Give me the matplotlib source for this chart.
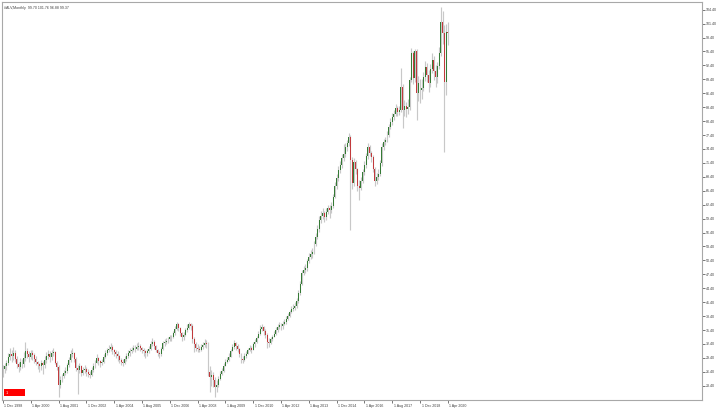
import numpy as np
import matplotlib
matplotlib.use("Agg")
import matplotlib.pyplot as plt
from matplotlib.patches import Rectangle
from matplotlib.transforms import ScaledTranslation

# Monthly candles, Dec 1998 .. Apr 2020
first_open = 26.6

closes = [27.0,
    27.6, 28.4, 29.6, 30.3, 29.8, 30.5, 29.2, 28.0, 27.4, 28.6, 28.0, 29.4,   # 1999
    30.8, 30.2, 29.6, 30.4, 30.0, 29.2, 28.6, 28.0, 27.6, 28.2, 27.8, 29.0,   # 2000
    29.8, 30.2, 29.6, 30.4, 30.6, 28.4, 27.4, 23.6, 24.6, 25.4, 26.2, 26.6,   # 2001
    27.8, 29.0, 30.2, 30.4, 29.2, 27.2, 26.8, 27.6, 26.2, 26.8, 27.0, 26.4,   # 2002
    26.0, 25.8, 26.8, 27.6, 28.4, 29.4, 28.8, 28.2, 28.6, 29.6, 30.4, 31.0,   # 2003
    31.4, 31.8, 31.0, 30.6, 30.2, 29.8, 29.0, 28.6, 28.4, 29.2, 29.8, 30.4,   # 2004
    30.8, 31.2, 31.6, 31.4, 31.8, 32.0, 31.6, 31.2, 30.8, 30.4, 30.8, 31.4,   # 2005
    32.4, 32.8, 32.0, 31.2, 30.4, 30.2, 31.4, 32.6, 32.8, 33.0, 33.4, 33.8,   # 2006
    33.8, 34.8, 35.6, 36.6, 35.8, 34.8, 33.8, 34.4, 35.4, 35.8, 36.6, 36.2,   # 2007
    33.4, 32.4, 31.6, 31.4, 31.2, 31.8, 32.2, 32.6, 32.4, 26.3, 25.3, 25.8,   # 2008
    24.6, 23.2, 23.6, 24.8, 26.0, 26.6, 27.6, 28.6, 29.0, 29.6, 30.8, 31.8,   # 2009
    32.6, 32.0, 31.4, 30.2, 29.2, 29.0, 29.8, 30.2, 31.0, 31.6, 31.2, 32.4,   # 2010
    32.8, 33.6, 34.6, 35.6, 36.0, 35.2, 34.4, 32.8, 32.6, 33.4, 33.8, 34.6,   # 2011
    35.4, 36.0, 36.4, 36.2, 36.8, 37.2, 37.8, 38.4, 39.2, 40.0, 40.2, 40.6,   # 2012
    41.6, 43.4, 45.4, 47.6, 48.4, 48.8, 50.2, 51.1, 51.8, 52.2, 54.0, 55.4,   # 2013
    57.2, 59.1, 60.0, 60.6, 59.8, 60.8, 61.6, 61.3, 62.2, 64.0, 66.4, 68.1,   # 2014
    69.9, 71.0, 72.4, 73.3, 74.8, 75.6, 77.0, 72.0, 67.0, 71.6, 70.0, 66.4,   # 2015
    66.0, 67.6, 69.4, 71.0, 72.8, 74.8, 73.6, 72.7, 70.0, 67.6, 68.4, 69.0,   # 2016
    71.4, 74.8, 75.8, 76.3, 77.4, 79.1, 80.2, 81.3, 82.0, 83.2, 82.4, 82.8,   # 2017
    87.7, 82.8, 83.6, 83.0, 83.4, 89.3, 95.0, 89.6, 95.4, 86.4, 88.6, 87.2,   # 2018
    87.6, 89.8, 92.0, 90.4, 88.6, 91.6, 93.6, 91.2, 89.9, 92.2, 95.0, 101.8,  # 2019
    99.4, 88.8, 99.7, 99.37]                                                  # 2020

highs = [27.8,
    28.4, 29.0, 30.4, 31.6, 31.2, 31.8, 31.0, 29.8, 28.6, 29.4, 29.2, 30.6,
    32.8, 31.6, 30.8, 31.2, 31.0, 30.4, 29.8, 28.8, 28.4, 29.0, 28.8, 29.8,
    30.6, 31.2, 30.8, 31.0, 31.6, 30.8, 28.8, 27.8, 25.6, 26.0, 26.8, 27.4,
    28.4, 29.6, 31.0, 31.6, 30.6, 29.6, 27.8, 28.2, 27.8, 27.4, 27.8, 27.4,
    27.0, 26.6, 27.4, 28.2, 29.0, 30.2, 29.6, 29.0, 29.2, 30.2, 31.0, 31.6,
    32.2, 32.6, 32.2, 31.4, 31.0, 30.8, 30.0, 29.4, 29.2, 29.8, 30.4, 31.0,
    31.6, 31.8, 32.2, 32.2, 32.6, 32.8, 32.4, 31.8, 31.6, 31.2, 31.4, 32.0,
    33.0, 33.6, 33.2, 32.2, 31.4, 30.8, 31.8, 33.0, 33.4, 33.6, 34.0, 34.4,
    34.4, 35.2, 36.2, 37.2, 37.0, 36.0, 35.0, 35.0, 35.8, 36.6, 37.2, 37.0,
    36.8, 34.0, 32.8, 32.4, 32.0, 32.4, 32.8, 33.4, 33.2, 32.8, 27.6, 26.8,
    26.4, 25.2, 24.6, 25.4, 26.6, 27.2, 28.2, 29.2, 29.6, 30.4, 31.4, 32.4,
    33.2, 32.8, 32.4, 31.6, 30.4, 29.8, 30.4, 30.8, 31.6, 32.2, 32.0, 32.8,
    33.4, 34.2, 35.2, 36.4, 36.8, 36.2, 35.6, 34.8, 33.6, 34.0, 34.4, 35.2,
    36.0, 36.6, 37.2, 37.0, 37.4, 37.8, 38.4, 39.0, 39.8, 40.6, 41.0, 41.4,
    42.2, 44.0, 46.0, 48.4, 49.2, 49.6, 50.8, 52.0, 52.6, 53.0, 54.6, 56.2,
    58.0, 60.0, 61.0, 61.6, 61.0, 61.6, 62.4, 62.4, 63.0, 64.8, 67.2, 69.0,
    70.8, 71.8, 73.4, 75.4, 75.6, 76.4, 77.8, 77.4, 72.6, 72.4, 72.0, 70.4,
    67.8, 68.4, 70.0, 71.8, 73.6, 75.6, 75.2, 74.0, 73.0, 70.6, 69.2, 70.0,
    72.0, 75.6, 76.6, 77.0, 78.2, 79.8, 81.0, 82.2, 82.8, 84.0, 83.6, 83.6,
    91.8, 88.4, 85.0, 84.6, 85.2, 89.8, 96.1, 95.6, 96.0, 96.0, 90.2, 89.4,
    89.4, 91.0, 93.4, 93.0, 91.4, 92.6, 95.0, 94.4, 92.4, 93.2, 96.4, 105.0,
    104.2, 101.0, 101.4, 101.76]

lows = [25.2,
    26.2, 26.8, 27.8, 29.0, 28.6, 29.0, 28.6, 27.2, 26.4, 26.8, 27.2, 27.4,
    28.8, 29.4, 28.6, 29.2, 29.0, 28.4, 27.8, 27.0, 26.4, 26.8, 26.0, 27.2,
    28.4, 29.2, 28.6, 29.0, 29.8, 28.0, 26.8, 21.0, 22.8, 24.2, 25.0, 25.8,
    26.2, 27.4, 28.6, 29.6, 28.6, 26.6, 21.6, 26.2, 25.6, 25.8, 26.2, 25.6,
    25.2, 25.0, 25.6, 26.4, 27.2, 28.2, 27.8, 27.4, 27.8, 28.4, 29.4, 30.0,
    30.6, 30.8, 30.2, 29.8, 29.4, 28.8, 28.2, 27.8, 27.6, 28.0, 28.8, 29.4,
    29.8, 30.4, 30.8, 30.6, 31.0, 31.2, 30.8, 30.4, 29.8, 29.4, 29.8, 30.4,
    31.0, 32.0, 31.4, 30.6, 29.8, 29.4, 29.8, 31.2, 32.0, 32.4, 32.6, 33.0,
    33.0, 33.6, 34.4, 35.4, 35.2, 34.2, 33.0, 33.2, 34.2, 35.0, 35.6, 35.4,
    32.6, 30.6, 30.8, 30.6, 30.6, 30.8, 31.4, 31.8, 31.6, 25.6, 22.0, 23.4,
    23.2, 21.0, 22.0, 23.2, 24.6, 25.8, 26.4, 27.8, 28.4, 28.8, 29.8, 30.8,
    31.4, 31.2, 30.6, 29.6, 28.2, 28.4, 28.8, 29.4, 30.2, 30.8, 30.4, 31.0,
    31.8, 32.6, 33.6, 34.4, 35.2, 34.4, 33.6, 31.6, 31.8, 32.4, 33.0, 33.8,
    34.4, 35.0, 35.6, 35.4, 35.6, 36.4, 36.8, 37.6, 38.2, 39.0, 39.4, 39.8,
    40.2, 41.2, 43.0, 45.0, 47.2, 47.6, 48.2, 49.8, 50.6, 51.0, 51.8, 53.4,
    55.0, 56.6, 58.4, 59.4, 58.6, 59.2, 60.4, 59.6, 60.6, 61.6, 63.8, 65.8,
    67.6, 69.2, 70.4, 71.8, 72.6, 74.0, 75.0, 57.0, 65.8, 66.4, 69.0, 65.4,
    63.4, 65.6, 67.0, 68.8, 70.4, 72.2, 72.8, 71.6, 69.4, 66.4, 66.8, 67.8,
    68.6, 70.8, 74.2, 75.2, 75.8, 77.0, 78.6, 79.6, 80.6, 81.4, 81.6, 81.8,
    82.4, 79.0, 81.6, 81.2, 82.0, 82.8, 88.8, 88.4, 88.8, 80.6, 84.8, 84.2,
    85.2, 86.8, 89.0, 88.8, 86.6, 87.8, 90.8, 89.2, 87.8, 88.6, 91.6, 94.4,
    97.0, 73.7, 86.0, 96.88]

date_labels = ["1 Dec 1998", "1 Apr 2000", "1 Aug 2001", "1 Dec 2002", "1 Apr 2004",
               "1 Aug 2005", "1 Dec 2006", "1 Apr 2008", "1 Aug 2009", "1 Dec 2010",
               "1 Apr 2012", "1 Aug 2013", "1 Dec 2014", "1 Apr 2016", "1 Aug 2017",
               "1 Dec 2018", "1 Apr 2020"]

header = "#ALV,Monthly  99.70 101.76 96.88 99.37"

closes = np.array(closes)
highs = np.array(highs)
lows = np.array(lows)
opens = np.concatenate([[first_open], closes[:-1]])
highs = np.maximum(highs, np.maximum(opens, closes))
lows = np.minimum(lows, np.minimum(opens, closes))
idx = np.arange(len(closes))

plt.rcParams["font.family"] = ["Liberation Sans", "DejaVu Sans"]

W, H = 720, 409
fig = plt.figure(figsize=(W / 100, H / 100), dpi=100)
ax = fig.add_axes([2 / W, 1 - 399.5 / H, 699.5 / W, 398 / H])

# wicks
ax.vlines(idx, lows, highs, color="#c8c8c8", linewidth=0.85, zorder=1)

# bodies
up = closes >= opens
body_bottom = np.minimum(opens, closes)
body_h = np.maximum(np.abs(closes - opens), 0.12)
ax.bar(idx[up], body_h[up], bottom=body_bottom[up], width=0.55,
       color="#357a35", linewidth=0, zorder=2)
ax.bar(idx[~up], body_h[~up], bottom=body_bottom[~up], width=0.55,
       color="#c23a3c", linewidth=0, zorder=2)

ax.set_xlim(-0.52, 401.96)
ax.set_ylim(20.43, 106.17)

grey = "#a8a8a8"
for s in ax.spines.values():
    s.set_color(grey)
    s.set_linewidth(0.8)

yt = np.arange(23.4, 104.5, 3.0)
ax.yaxis.tick_right()
ax.set_yticks(yt)
ax.set_yticklabels(["%.2f" % v for v in yt])
ax.tick_params(axis="y", direction="out", length=2.2, width=0.6, color="#606060",
               labelsize=2.6, labelcolor="#404040", pad=1.2)

ax.set_xticks(np.arange(0, 16 * len(date_labels), 16))
ax.set_xticklabels(date_labels, ha="left")
ax.tick_params(axis="x", direction="out", length=2.2, width=0.6, color="#606060",
               labelsize=2.6, labelcolor="#404040", pad=1.0)
shift = ScaledTranslation(1.5 / 100, 0, fig.dpi_scale_trans)
for lbl in ax.get_xticklabels():
    lbl.set_transform(lbl.get_transform() + shift)

fig.text(4 / W, 1 - 7.5 / H, header, fontsize=2.6, color="#404040", va="center", ha="left")

# little red one-click box in the corner
fig.patches.append(Rectangle((4 / W, 1 - 396 / H), 21 / W, 7 / H,
                             transform=fig.transFigure, facecolor="#ff0000",
                             edgecolor="none", zorder=5))
fig.text(6 / W, 1 - 392.5 / H, "1", fontsize=2.8, color="white", va="center", ha="left",
         zorder=6)

fig.savefig("out.png", dpi=100)
